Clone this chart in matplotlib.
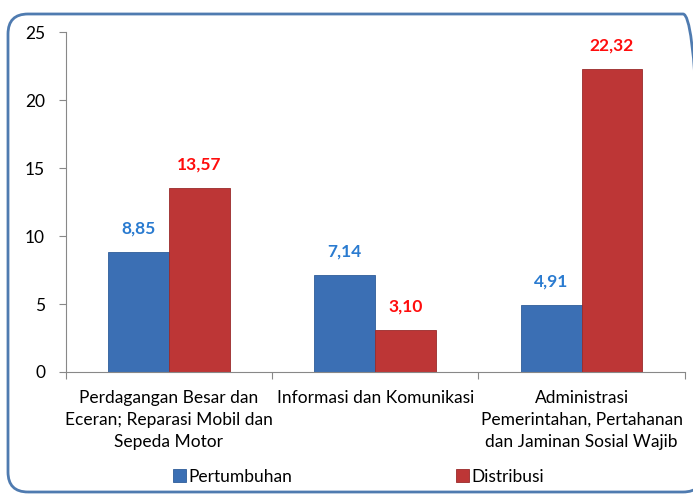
import matplotlib
matplotlib.use('Agg')
import matplotlib.pyplot as plt
from matplotlib.patches import FancyBboxPatch
import numpy as np

# ======================
# DATA
# ======================
categories = ['Perdagangan Besar dan\nEceran; Reparasi Mobil dan\nSepeda Motor',
              'Informasi dan Komunikasi',
              'Administrasi\nPemerintahan, Pertahanan\ndan Jaminan Sosial Wajib']
pertumbuhan = [8.85, 7.14, 4.91]
distribusi = [13.57, 3.10, 22.32]
series_names = ['Pertumbuhan', 'Distribusi']
yticks = [0, 5, 10, 15, 20, 25]

# ======================
# STYLE
# ======================
plt.rcParams['font.family'] = ['Lato', 'DejaVu Sans']
blue = '#3b6fb4'
red = '#bd3636'
blue_txt = '#2a7bd0'
red_txt = '#ff0d0d'

fig = plt.figure(figsize=(6.93, 4.95), dpi=100)
ax = fig.add_axes([0.095, 0.2485, 0.893, 0.6865])

x = np.arange(len(categories))
w = 0.295
b1 = ax.bar(x - w / 2, pertumbuhan, w, color=blue, edgecolor='#2f5d99', linewidth=0.6,
            label=series_names[0])
b2 = ax.bar(x + w / 2, distribusi, w, color=red, edgecolor='#9a2a2a', linewidth=0.6,
            label=series_names[1])

for rect, v in zip(b1, pertumbuhan):
    ax.annotate(('%.2f' % v).replace('.', ','), (rect.get_x() + rect.get_width() / 2, v),
                xytext=(0, 11), textcoords='offset points', ha='center', va='bottom',
                fontsize=12.5, fontweight='bold', color=blue_txt)
for rect, v in zip(b2, distribusi):
    ax.annotate(('%.2f' % v).replace('.', ','), (rect.get_x() + rect.get_width() / 2, v),
                xytext=(0, 11), textcoords='offset points', ha='center', va='bottom',
                fontsize=12.5, fontweight='bold', color=red_txt)

ax.set_xlim(-0.5, 2.5)
ax.set_ylim(0, 25)
ax.set_yticks(yticks)
ax.set_yticklabels([str(t) for t in yticks], fontsize=12.5)
ax.set_xticks([-0.5, 0.5, 1.5, 2.5])
ax.set_xticklabels([])
ax.set_xticks(x, minor=True)
ax.set_xticklabels(categories, minor=True, fontsize=12.5, linespacing=1.45)
ax.tick_params(axis='x', which='minor', length=0, pad=13)
ax.tick_params(axis='x', which='major', length=5, color='#888888', direction='out')
ax.tick_params(axis='y', length=5, color='#888888', pad=10)

for s in ['top', 'right']:
    ax.spines[s].set_visible(False)
ax.spines['left'].set_color('#888888')
ax.spines['bottom'].set_color('#888888')

fig.legend(handles=[b1, b2], labels=series_names, loc='center', bbox_to_anchor=(0.517, 0.037),
           ncol=2, frameon=False, fontsize=12.5, handlelength=0.75, handleheight=0.75,
           handletextpad=0.15, columnspacing=9.4)

# rounded frame around chart (inches)
frame = FancyBboxPatch((0.08, 0.03), 6.95, 4.78, boxstyle='round,pad=0,rounding_size=0.2',
                       transform=fig.dpi_scale_trans, facecolor='none', edgecolor='#4f7bb0',
                       linewidth=2, clip_on=False)
fig.patches.append(frame)

fig.savefig('out.png', dpi=100)
